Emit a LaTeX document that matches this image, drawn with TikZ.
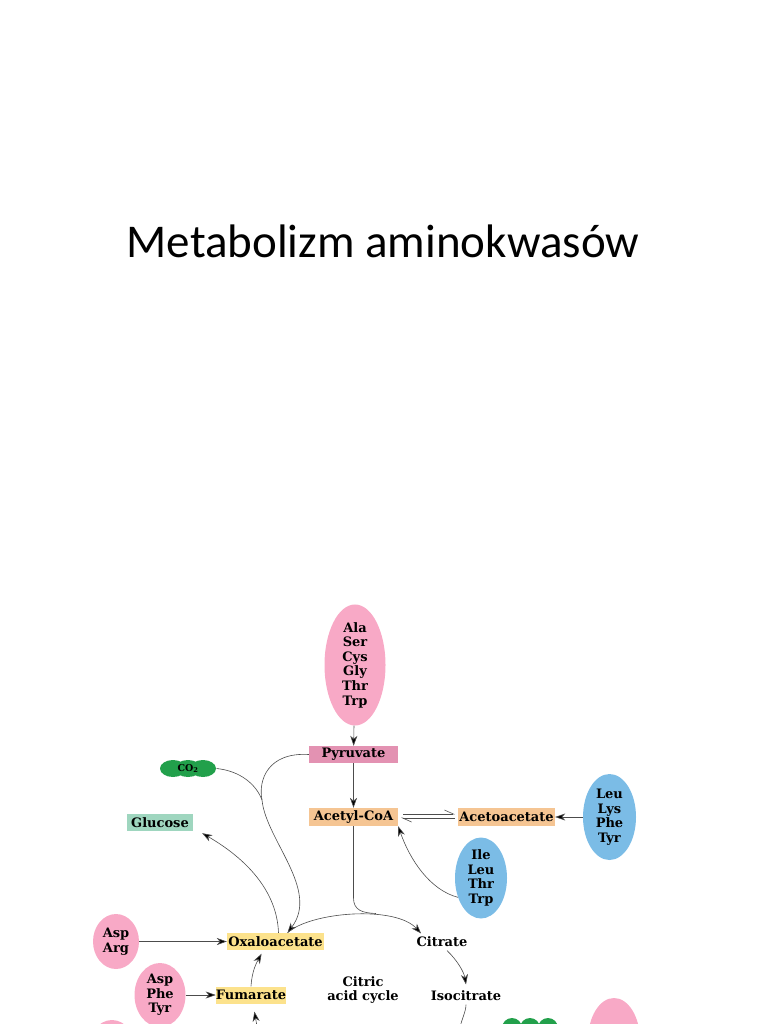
\documentclass[tikz,border=0pt]{standalone}
\usepackage{fontspec}
\setmainfont{DejaVu Serif}
\newfontfamily\titlefont{Carlito}
\usepackage{tikz}
\usetikzlibrary{positioning,arrows.meta,shapes.geometric,calc}
\definecolor{mbpink}{HTML}{F8A9C6}
\definecolor{mbrose}{HTML}{E392B2}
\definecolor{mbtan}{HTML}{F5C593}
\definecolor{mbmint}{HTML}{9FD6BF}
\definecolor{mbsky}{HTML}{7BBCE6}
\definecolor{mbgold}{HTML}{FCE28C}
\definecolor{mbgreen}{HTML}{22A04B}

\begin{document}
\begin{tikzpicture}[x=1pt, y=-1pt,
  font=\fontsize{13}{14.6}\selectfont\bfseries,
  acid/.style={ellipse, inner sep=0pt, align=center},
  metab/.style={minimum height=17pt, inner sep=0pt},
  con/.style={draw=black!70, line width=0.6pt},
  arr/.style={con, -{Stealth[length=10pt, width=7pt, inset=3pt, fill=black]}},
  harp/.style={con, -{Straight Barb[harpoon, length=9pt, width=8pt]}},
  ]
  \useasboundingbox (0,0) rectangle (768,1024);
  \clip (0,0) rectangle (768,1024);

  \node[font=\titlefont\fontsize{47}{56}\selectfont, anchor=base] (title) at (383,257) {Metabolizm aminokwasów};

  % amino acid groups and intermediates
  \node[acid, fill=mbpink, minimum width=61pt, minimum height=114pt] (g3) at (355,665) {Ala\\Ser\\Cys\\Gly\\Thr\\Trp};
  \node[metab, fill=mbrose, minimum width=89pt] (pyr) at (353.5,754.5) {Pyruvate};
  \node[metab, fill=mbtan, minimum width=89pt, minimum height=18pt] (acoa) at (353.5,817) {Acetyl-CoA};
  \node[metab, fill=mbtan, minimum width=97pt, minimum height=18pt] (acac) at (506.5,817) {Acetoacetate};
  \node[acid, fill=mbsky, minimum width=53pt, minimum height=86pt] (ketoA) at (609.5,817) {Leu\\Lys\\Phe\\Tyr};
  \node[acid, fill=mbsky, minimum width=52pt, minimum height=81pt] (ketoB) at (481,878) {Ile\\Leu\\Thr\\Trp};
  \node[metab, fill=mbmint, minimum width=66pt] (glc) at (160,822.5) {Glucose};
  \foreach \dx in {-15,0,15}
    \fill[mbgreen] (188+\dx,768.5) ellipse (13pt and 8.5pt);
  \node[minimum width=57pt, minimum height=17pt, inner sep=0pt, font=\fontsize{9.5}{10}\selectfont\bfseries] (co2) at (188,768.5) {CO\textsubscript{2}};

  \node[metab, fill=mbgold, minimum width=97pt] (oxa) at (275.5,941.5) {Oxaloacetate};
  \node[acid, fill=mbpink, minimum width=46pt, minimum height=55pt] (gAA) at (116,941.5) {Asp\\Arg};
  \node (cit) at (442,942) {Citrate};
  \node (iso) at (466,996) {Isocitrate};
  \node[align=center] (cac) at (363,990) {Citric\\acid cycle};
  \node[metab, fill=mbgold, minimum width=70pt] (fum) at (251,995) {Fumarate};
  \node[acid, fill=mbpink, minimum width=51pt, minimum height=64pt] (gAPT) at (160,995) {Asp\\Phe\\Tyr};

  % cut off at the page edge
  \node[acid, fill=mbpink, minimum width=50pt, minimum height=66pt] (gLow) at (112,1053) {};
  \node[acid, fill=mbpink, minimum width=52pt, minimum height=84pt] (gRight) at (614,1040) {};
  \foreach \dx in {-18,0,18}
    \fill[mbgreen] (530+\dx,1028) circle (10pt);
  \fill[mbgreen] (502,1028) rectangle (558,1030);

  % connectors
  \draw[arr] (g3) -- (pyr);
  \draw[arr] (pyr) -- (acoa);
  \draw[harp] ([xshift=5pt, yshift=3pt]acoa.east) -- ([xshift=-3pt, yshift=3pt]acac.west);
  \draw[harp] ([xshift=-3pt, yshift=-1pt]acac.west) -- ([xshift=3pt, yshift=-1pt]acoa.east);
  \draw[arr] (ketoA) -- (acac);
  \draw[arr] (ketoB.220) .. controls (430,890) and (410,860) .. (acoa.south east);

  \coordinate (merge) at (262,800);
  \draw[con] (co2.east) .. controls (240,771) and (256,784) .. (merge);
  \draw[arr] (pyr.west) .. controls (268,752) and (258,780) .. (merge)
    .. controls (266,840) and (320,890) .. ([xshift=12pt]oxa.north);
  \draw[arr] ([xshift=3pt]oxa.north) .. controls (277,890) and (245,858) .. ([xshift=9pt, yshift=-2pt]glc.south east);

  \draw[arr] ([xshift=12pt]oxa.north) .. controls (310,912) and (395,905) .. ([xshift=8pt]cit.north west);
  \coordinate (acjoin) at (376,913.5);
  \draw[con] (acoa.south) -- (acoa.south |- 0,898) .. controls (353.5,910) and (362,913) .. (acjoin);
  \draw[arr] ([xshift=5pt]cit.south) .. controls (457,960) and (464,972) .. ([yshift=3pt]iso.north);
  \coordinate (isoout) at (459,1032);
  \draw[con] (iso.south) .. controls (466,1012) and (461,1020) .. (isoout);

  \coordinate (fumin) at (258,1032);
  \draw[arr, shorten >=8pt] (fumin) -- ([xshift=2pt]fum.south);
  \draw[arr, shorten >=4pt] (fum.north) .. controls (252,970) and (257,962) .. ([xshift=-12pt]oxa.south);
  \draw[arr] (gAA) -- (oxa);
  \draw[arr] (gAPT) -- (fum);
\end{tikzpicture}
\end{document}
